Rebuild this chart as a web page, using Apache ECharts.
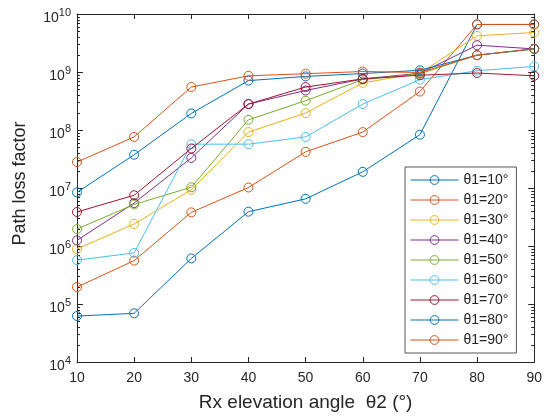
<!DOCTYPE html>
<html>
<head>
<meta charset="utf-8">
<script src="https://cdn.jsdelivr.net/npm/echarts@6/dist/echarts.min.js"></script>
<style>
html,body{margin:0;padding:0;background:#fff;}
#chart{width:545px;height:418px;}
</style>
</head>
<body>
<div id="chart"></div>
<script>
// ---- data ----
const xValues = [10, 20, 30, 40, 50, 60, 70, 80, 90];
const seriesNames = ['θ1=10°', 'θ1=20°', 'θ1=30°', 'θ1=40°', 'θ1=50°', 'θ1=60°', 'θ1=70°', 'θ1=80°', 'θ1=90°'];
const theta10 = [6.2e4, 6.9e4, 6.1e5, 3.9e6, 6.5e6, 1.9e7, 8.3e7, 6.6e9, 6.6e9];
const theta20 = [1.96e5, 5.6e5, 3.8e6, 1.02e7, 4.2e7, 9.2e7, 4.6e8, 6.6e9, 6.6e9];
const theta30 = [8.9e5, 2.4e6, 9.3e6, 9.2e7, 1.96e8, 6.5e8, 9.5e8, 4.2e9, 4.8e9];
const theta40 = [1.25e6, 5.5e6, 3.3e7, 2.8e8, 4.8e8, 7.6e8, 9.5e8, 2.9e9, 2.5e9];
const theta50 = [1.96e6, 5.2e6, 1.03e7, 1.5e8, 3.2e8, 7.4e8, 9.3e8, 1.95e9, 2.5e9];
const theta60 = [5.7e5, 7.6e5, 5.7e7, 5.7e7, 7.6e7, 2.8e8, 7.4e8, 1.05e9, 1.25e9];
const theta70 = [3.86e6, 7.5e6, 4.8e7, 2.8e8, 5.5e8, 7.6e8, 8.8e8, 9.6e8, 8.6e8];
const theta80 = [8.4e6, 3.75e7, 1.93e8, 7.1e8, 8.4e8, 9.4e8, 1.07e9, 1.95e9, 2.5e9];
const theta90 = [2.8e7, 7.6e7, 5.5e8, 8.6e8, 9.35e8, 1.02e9, 9.8e8, 1.95e9, 2.5e9];
const seriesValues = [theta10, theta20, theta30, theta40, theta50, theta60, theta70, theta80, theta90];
const yMinExp = 4, yMaxExp = 10;
const xTitle = 'Rx elevation angle  θ2 (°)';
const yTitle = 'Path loss factor';

// ---- styling ----
const colors = ['#0072BD', '#D95319', '#EDB120', '#7E2F8E', '#77AC30', '#4DBEEE', '#A2142F', '#0072BD', '#D95319'];
const axisColor = '#262626';
const font = '"Liberation Sans", Arial, Helvetica, sans-serif';

const minorTicks = [];
for (let e = yMinExp; e < yMaxExp; e++) {
  for (let m = 2; m <= 9; m++) minorTicks.push([xValues[0], m * Math.pow(10, e)]);
}

const chart = echarts.init(document.getElementById('chart'), null, {renderer: 'canvas'});

const lineSeries = seriesNames.map((name, i) => ({
  name: name,
  type: 'line',
  data: xValues.map((x, j) => [x, seriesValues[i][j]]),
  symbol: 'circle',
  symbolSize: 9,
  showSymbol: true,
  lineStyle: {color: colors[i], width: 1},
  itemStyle: {color: 'rgba(255,255,255,0)', borderColor: colors[i], borderWidth: 1},
  emphasis: {disabled: true},
  z: 2 + i
}));

const minorSeries = {
  type: 'custom',
  silent: true,
  clip: false,
  data: minorTicks,
  z: 1,
  renderItem: function (params, api) {
    const p = api.coord([api.value(0), api.value(1)]);
    const cs = params.coordSys;
    const y = Math.round(p[1]) + 0.5;
    return {
      type: 'group',
      children: [
        {type: 'line', shape: {x1: cs.x, y1: y, x2: cs.x + 3, y2: y}, style: {stroke: axisColor, lineWidth: 1}},
        {type: 'line', shape: {x1: cs.x + cs.width - 3, y1: y, x2: cs.x + cs.width, y2: y}, style: {stroke: axisColor, lineWidth: 1}}
      ]
    };
  }
};

const yLabelFormatter = function (v) {
  const e = Math.round(Math.log10(v));
  return '{b|10}{s|' + e + '}';
};

const option = {
  animation: false,
  backgroundColor: '#ffffff',
  textStyle: {fontFamily: font},
  grid: {left: 77, right: 8, top: 14, bottom: 56},
  legend: {
    data: seriesNames,
    orient: 'vertical',
    left: 405,
    top: 167,
    itemWidth: 48,
    itemHeight: 11,
    itemGap: 6,
    padding: [6, 8, 6, 5],
    backgroundColor: '#ffffff',
    borderColor: '#555555',
    borderWidth: 1,
    borderRadius: 0,
    lineStyle: {width: 1},
    itemStyle: {borderWidth: 1},
    textStyle: {fontFamily: font, fontSize: 14, color: axisColor, lineHeight: 14},
    selectedMode: false
  },
  xAxis: [
    {
      type: 'value',
      min: 10, max: 90, interval: 10,
      name: xTitle,
      nameLocation: 'middle',
      nameGap: 31,
      nameTextStyle: {fontFamily: font, fontSize: 19, color: axisColor},
      axisLine: {show: true, lineStyle: {color: axisColor, width: 1}},
      axisTick: {show: true, inside: true, length: 5, lineStyle: {color: axisColor}},
      axisLabel: {fontFamily: font, fontSize: 14, color: axisColor, margin: 9},
      splitLine: {show: false}
    },
    {
      type: 'value',
      position: 'top',
      min: 10, max: 90, interval: 10,
      axisLine: {show: true, onZero: false, lineStyle: {color: axisColor, width: 1}},
      axisTick: {show: true, inside: true, length: 5, lineStyle: {color: axisColor}},
      axisLabel: {show: false},
      splitLine: {show: false}
    }
  ],
  yAxis: [
    {
      type: 'log',
      logBase: 10,
      min: Math.pow(10, yMinExp),
      max: Math.pow(10, yMaxExp),
      splitNumber: 6,
      name: yTitle,
      nameLocation: 'middle',
      nameGap: 48,
      nameTextStyle: {fontFamily: font, fontSize: 18, color: axisColor, padding: [0, 0, 0, 9]},
      axisLine: {show: true, lineStyle: {color: axisColor, width: 1}},
      axisTick: {show: true, inside: true, length: 6, lineStyle: {color: axisColor}},
      axisLabel: {
        margin: 6,
        formatter: yLabelFormatter,
        padding: [4, 0, 0, 0],
        rich: {
          b: {fontFamily: font, fontSize: 14, color: axisColor, lineHeight: 18, verticalAlign: 'bottom'},
          s: {fontFamily: font, fontSize: 11, color: axisColor, lineHeight: 11, verticalAlign: 'top'}
        }
      },
      splitLine: {show: false},
      minorTick: {show: false}
    },
    {
      type: 'log',
      logBase: 10,
      position: 'right',
      min: Math.pow(10, yMinExp),
      max: Math.pow(10, yMaxExp),
      splitNumber: 6,
      axisLine: {show: true, onZero: false, lineStyle: {color: axisColor, width: 1}},
      axisTick: {show: true, inside: true, length: 6, lineStyle: {color: axisColor}},
      axisLabel: {show: false},
      splitLine: {show: false}
    }
  ],
  series: lineSeries.concat([minorSeries])
};

chart.setOption(option);
</script>
</body>
</html>
